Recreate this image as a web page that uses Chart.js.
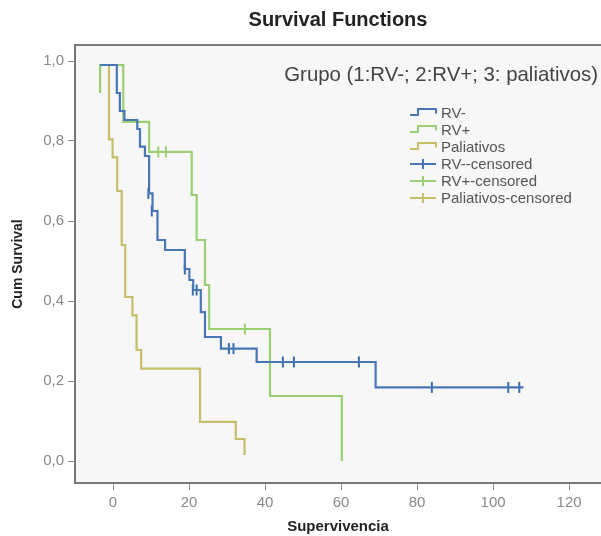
<!DOCTYPE html>
<html>
<head>
<meta charset="utf-8">
<script src="https://cdn.jsdelivr.net/npm/chart.js@4"></script>
<style>
  body { margin: 0; background: #ffffff; overflow: hidden; }
  #wrap { position: relative; width: 601px; height: 536px; }
  #group-label {
    position: absolute; top: 62px; right: 3px;
    font: 20.4px "Liberation Sans", sans-serif; color: #444; line-height: 24px;
    white-space: nowrap;
  }
  #legend { position: absolute; left: 409px; top: 104px; }
  .leg-row { display: flex; align-items: center; height: 17px; }
  .leg-row svg { width: 29px; height: 12px; margin-right: 3px; }
  .leg-row span { font: 15px "Liberation Sans", sans-serif; color: #555; }
</style>
</head>
<body>
<div id="wrap">
  <canvas id="kmChart"></canvas>
  <div id="group-label">Grupo (1:RV-; 2:RV+; 3: paliativos)</div>
  <div id="legend"></div>
</div>
<script>
var xTickValues = [0, 20, 40, 60, 80, 100, 120];
var xTickLabels = ["0", "20", "40", "60", "80", "100", "120"];
var yTickValues = [0, 0.2, 0.4, 0.6, 0.8, 1.0];
var yTickLabels = ["0,0", "0,2", "0,4", "0,6", "0,8", "1,0"];

// RV-
var rvNegTimes = [-3.4, 1.0, 1.8, 3.0, 6.4, 7.1, 8.4, 9.5, 10.4, 11.7, 13.7, 18.9, 20.1, 21.1, 23.1, 24.2, 28.4, 37.8, 69.1, 108.0];
var rvNegSurv  = [0.99, 0.92, 0.875, 0.8525, 0.83, 0.786, 0.7625, 0.669, 0.625, 0.5525, 0.5275, 0.48, 0.4525, 0.4275, 0.372, 0.31, 0.281, 0.2475, 0.184, 0.184];
var rvNegCensTimes = [9.3, 10.2, 18.9, 21.0, 22.0, 30.5, 31.7, 44.7, 47.6, 64.7, 83.9, 104.0, 106.9];
var rvNegCensSurv  = [0.669, 0.625, 0.48, 0.4275, 0.4275, 0.281, 0.281, 0.2475, 0.2475, 0.2475, 0.184, 0.184, 0.184];

// RV+
var rvPosTimes = [-3.4, -3.4, 2.7, 9.5, 20.7, 22.0, 24.2, 25.3, 41.3, 60.2];
var rvPosSurv  = [0.92, 0.99, 0.848, 0.773, 0.665, 0.5525, 0.44, 0.33, 0.1625, 0.0];
var rvPosCensTimes = [11.9, 13.9, 34.7];
var rvPosCensSurv  = [0.773, 0.773, 0.33];

// Paliativos
var palTimes = [-3.4, -1.05, -0.1, 1.1, 2.3, 3.2, 5.1, 6.2, 7.4, 22.9, 32.3, 34.6];
var palSurv  = [0.99, 0.804, 0.759, 0.675, 0.54, 0.41, 0.364, 0.2775, 0.231, 0.098, 0.055, 0.015];
var palCensTimes = [];
var palCensSurv  = [];

var BLUE = "#4876b6", GREEN = "#9ccf74", OLIVE = "#c6be68";
var legendItems = [
  { label: "RV-", color: BLUE, kind: "step" },
  { label: "RV+", color: GREEN, kind: "step" },
  { label: "Paliativos", color: OLIVE, kind: "step" },
  { label: "RV--censored", color: BLUE, kind: "cens" },
  { label: "RV+-censored", color: GREEN, kind: "cens" },
  { label: "Paliativos-censored", color: OLIVE, kind: "cens" },
];

function pts(xs, ys) {
  return xs.map(function(x, i) { return { x: x, y: ys[i] }; });
}

function curve(label, xs, ys, color) {
  return {
    label: label, data: pts(xs, ys), borderColor: color, borderWidth: 2.2,
    stepped: "before", pointRadius: 0, fill: false,
  };
}

function censored(label, xs, ys, color) {
  return {
    label: label, data: pts(xs, ys), borderColor: color, backgroundColor: color,
    showLine: false, pointStyle: "line", rotation: 90, pointRadius: 5.5,
    pointBorderWidth: 2, pointHoverRadius: 5.5,
  };
}

var plotBox = {
  id: "plotBox",
  beforeDraw: function(chart) {
    var a = chart.chartArea, ctx = chart.ctx;
    ctx.save();
    ctx.fillStyle = "#f7f7f7";
    ctx.fillRect(a.left, a.top, a.right - a.left, a.bottom - a.top);
    ctx.strokeStyle = "#7a7a7a";
    ctx.lineWidth = 2;
    ctx.beginPath();
    ctx.moveTo(a.left - 1, a.top);
    ctx.lineTo(chart.width, a.top);
    ctx.stroke();
    ctx.restore();
  }
};

function noPad(scale) {
  scale.paddingLeft = 0;
  scale.paddingRight = 0;
  scale.paddingTop = 0;
  scale.paddingBottom = 0;
}

function renderChart() {
  var ctx = document.getElementById("kmChart").getContext("2d");
  new Chart(ctx, {
    type: "line",
    data: {
      datasets: [
        curve("RV-", rvNegTimes, rvNegSurv, BLUE),
        censored("RV--censored", rvNegCensTimes, rvNegCensSurv, "#3d6cad"),
        curve("RV+", rvPosTimes, rvPosSurv, GREEN),
        censored("RV+-censored", rvPosCensTimes, rvPosCensSurv, GREEN),
        curve("Paliativos", palTimes, palSurv, OLIVE),
        censored("Paliativos-censored", palCensTimes, palCensSurv, OLIVE),
      ],
    },
    options: {
      responsive: true,
      maintainAspectRatio: false,
      animation: false,
      layout: { padding: 0, autoPadding: false },
      plugins: {
        legend: { display: false },
        tooltip: { enabled: false },
        title: {
          display: true,
          text: "Survival Functions",
          fullSize: false,
          color: "#222",
          font: { family: "'Liberation Sans', sans-serif", size: 20, weight: "bold" },
          padding: { top: 8, bottom: 13 },
        },
      },
      scales: {
        x: {
          type: "linear",
          min: -10,
          max: 128.4,
          afterBuildTicks: function(scale) {
            scale.ticks = xTickValues.map(function(v) { return { value: v }; });
          },
          afterFit: function(scale) { scale.height = 53; noPad(scale); },
          ticks: {
            autoSkip: false, maxRotation: 0, padding: 4,
            callback: function(v, i) { return xTickLabels[i]; },
            font: { family: "'Liberation Sans', sans-serif", size: 15 },
            color: "#8a8a8a",
          },
          grid: { drawOnChartArea: false, drawTicks: true, tickLength: 7, tickColor: "#8a8a8a" },
          border: { display: true, color: "#777", width: 2 },
          title: {
            display: true, text: "Supervivencia", color: "#222",
            font: { family: "'Liberation Sans', sans-serif", size: 15, weight: "bold" },
            padding: { top: 0, bottom: 0 },
          },
        },
        y: {
          min: -0.055,
          max: 1.04,
          afterBuildTicks: function(scale) {
            scale.ticks = yTickValues.map(function(v) { return { value: v }; });
          },
          afterFit: function(scale) { scale.width = 75; noPad(scale); },
          ticks: {
            padding: 4,
            callback: function(v, i) { return yTickLabels[i]; },
            font: { family: "'Liberation Sans', sans-serif", size: 15 },
            color: "#8a8a8a",
          },
          grid: { drawOnChartArea: false, drawTicks: true, tickLength: 7, tickColor: "#8a8a8a" },
          border: { display: true, color: "#777", width: 2 },
          title: {
            display: true, text: "Cum Survival", color: "#222",
            font: { family: "'Liberation Sans', sans-serif", size: 14, weight: "bold" },
            padding: { top: 10, bottom: 0 },
          },
        },
      },
    },
    plugins: [plotBox],
  });
}

function renderLegend() {
  var box = document.getElementById("legend");
  legendItems.forEach(function(item) {
    var path = item.kind === "step"
      ? '<path d="M1,8 H9 V2 H27 V6.5" fill="none" stroke="' + item.color + '" stroke-width="2"/>'
      : '<path d="M1,6 H27 M14,1 V11" fill="none" stroke="' + item.color + '" stroke-width="2"/>';
    var row = document.createElement("div");
    row.className = "leg-row";
    row.innerHTML = '<svg viewBox="0 0 29 12">' + path + '</svg><span>' + item.label + '</span>';
    box.appendChild(row);
  });
}

document.addEventListener("DOMContentLoaded", function() {
  renderChart();
  renderLegend();
});
</script>
</body>
</html>
